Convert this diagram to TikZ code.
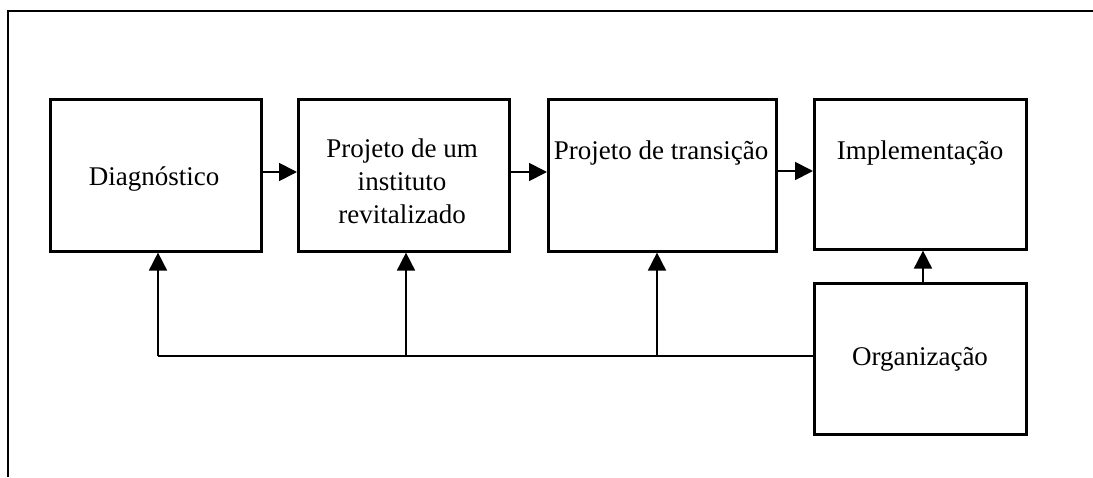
\documentclass[tikz,border=0pt]{standalone}
\usepackage{fontspec}
\setmainfont{Liberation Serif}
\usetikzlibrary{arrows.meta}
\begin{document}
\begin{tikzpicture}[x=1pt,y=-1pt,
  box/.style={draw,line width=2.6pt,inner sep=0pt,anchor=north west},
  txt/.style={inner sep=0pt,font=\fontsize{27}{33}\selectfont,align=center},
  conn/.style={line width=1.8pt},
  arr/.style={line width=1.8pt,-{Triangle[length=18pt,width=18pt]}},
  frame/.style={line width=1.8pt}]
\useasboundingbox (0,0) rectangle (1093,477);
% outer frame
\coordinate (fbl) at (8,477);
\coordinate (ftl) at (8,11);
\coordinate (ftr) at (1093,11);
\draw[frame] (fbl) -- (ftl) -- (ftr);
% boxes
\node[box,minimum width=211pt,minimum height=152pt] (d) at (49,98) {};
\node[box,minimum width=211pt,minimum height=152pt] (p) at (297,98) {};
\node[box,minimum width=228pt,minimum height=152pt] (t) at (547,98) {};
\node[box,minimum width=212pt,minimum height=150pt] (i) at (813,98) {};
\node[box,minimum width=212pt,minimum height=151pt] (o) at (813,282) {};
% texts
\node[txt,anchor=base] (dt) at (154,185) {Diagnóstico};
\node[txt,anchor=north] (pt) at (402,139) {Projeto de um\\instituto\\revitalizado};
\node[txt,anchor=base] (tt) at (661,159) {Projeto de transição};
\node[txt,anchor=base] (it) at (920,159) {Implementação};
\node[txt,anchor=base] (ot) at (920,365) {Organização};
% horizontal arrows
\coordinate (a1) at (260,172);
\coordinate (a2) at (508,172);
\coordinate (a3) at (775,171);
\draw[arr] (a1) -- (a1 -| p.west);
\draw[arr] (a2) -- (a2 -| t.west);
\draw[arr] (a3) -- (a3 -| i.west);
% feedback lines
\coordinate (j1) at (158,356);
\coordinate (j2) at (406,356);
\coordinate (j3) at (657,356);
\coordinate (j4) at (923,282);
\draw[conn] (j1 -| o.west) -- (j1);
\draw[arr] (j1) -- (j1 |- d.south);
\draw[arr] (j2) -- (j2 |- p.south);
\draw[arr] (j3) -- (j3 |- t.south);
\draw[arr] (j4) -- (j4 |- i.south);
\end{tikzpicture}
\end{document}
